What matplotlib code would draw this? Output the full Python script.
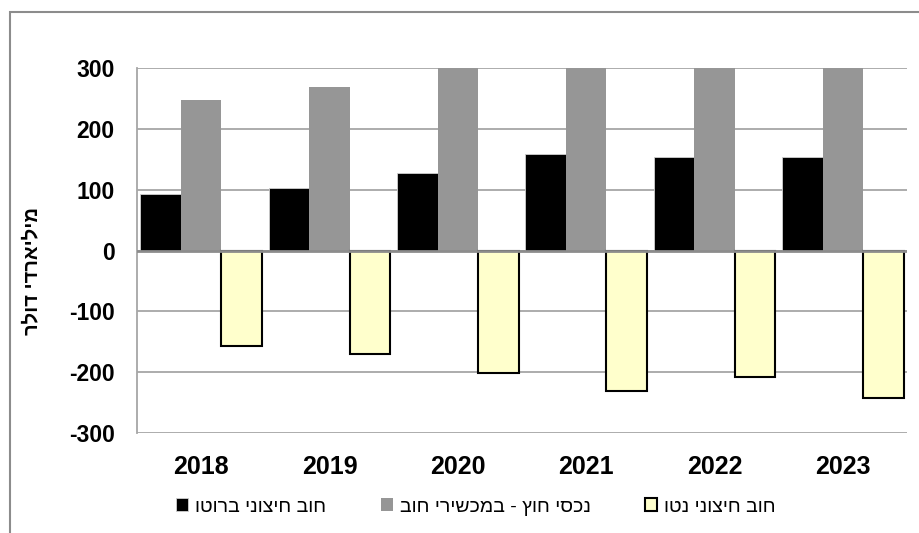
import matplotlib
matplotlib.use('Agg')
import matplotlib.pyplot as plt
from matplotlib.patches import Rectangle
import numpy as np

plt.rcParams['font.family'] = ['Liberation Sans', 'DejaVu Sans']

years = ['2018', '2019', '2020', '2021', '2022', '2023']
gross_debt = [93, 102, 128, 159, 154, 154]
foreign_assets = [247, 269, 325, 365, 350, 360]
net_debt = [-157, -170, -202, -231, -208, -243]
y_ticks = [-300, -200, -100, 0, 100, 200, 300]

labels = ['חוב חיצוני ברוטו', 'נכסי חוץ - במכשירי חוב', 'חוב חיצוני נטו']
y_title = 'מיליארדי דולר'


def rtl(s):
    """matplotlib has no bidi support, so flip Hebrew to visual order."""
    return s[::-1]


fig = plt.figure(figsize=(9.19, 5.33), dpi=100)
ax = fig.add_axes([137 / 919, 1 - 433 / 533, 770 / 919, 365 / 533])

x = np.arange(len(years))
w = 0.316
ax.bar(x - w, gross_debt, w, color='black', edgecolor='#d0d0d0', linewidth=0.6,
       label=rtl(labels[0]), zorder=3)
ax.bar(x, foreign_assets, w, color='#969696', linewidth=0,
       label=rtl(labels[1]), zorder=3)
ax.bar(x + w, net_debt, w, color='#FFFFCC', edgecolor='black', linewidth=1.5,
       label=rtl(labels[2]), zorder=3)

ax.set_xlim(-0.5, len(years) - 0.5)
ax.set_ylim(-300, 300)
ax.set_yticks(y_ticks)
ax.set_yticklabels([str(v) for v in y_ticks], fontsize=16.5, fontweight='bold')
ax.set_xticks(x)
ax.set_xticklabels(years, fontsize=18, fontweight='bold')
ax.tick_params(axis='both', length=0)
ax.tick_params(axis='y', pad=16)
ax.tick_params(axis='x', pad=16)

# grid and axis lines
ax.set_axisbelow(True)
ax.yaxis.grid(True, color='#a6a6a6', linewidth=1.3)
ax.axhline(0, color='#8c8c8c', linewidth=2, zorder=4)
for side in ['top', 'right', 'bottom']:
    ax.spines[side].set_visible(False)
ax.spines['left'].set_color('#a6a6a6')
ax.spines['left'].set_linewidth(1.3)

fig.text(32 / 919, 1 - 271 / 533, rtl(y_title), rotation=90, fontsize=14.5,
         fontweight='bold', ha='center', va='center')

leg = fig.legend(loc='center', bbox_to_anchor=(476 / 919, 1 - 507 / 533), ncol=3,
                 frameon=False, fontsize=14, handlelength=0.62, handleheight=0.62,
                 handletextpad=0.35, columnspacing=2.8)

# outer chart frame (only left and top visible in the crop)
fig.patches.append(Rectangle((10 / 919, -0.1), 1.2, 1 - 12 / 533 + 0.1,
                             transform=fig.transFigure, fill=False,
                             edgecolor='#8c8c8c', linewidth=1.5))

fig.savefig('out.png', dpi=100)
